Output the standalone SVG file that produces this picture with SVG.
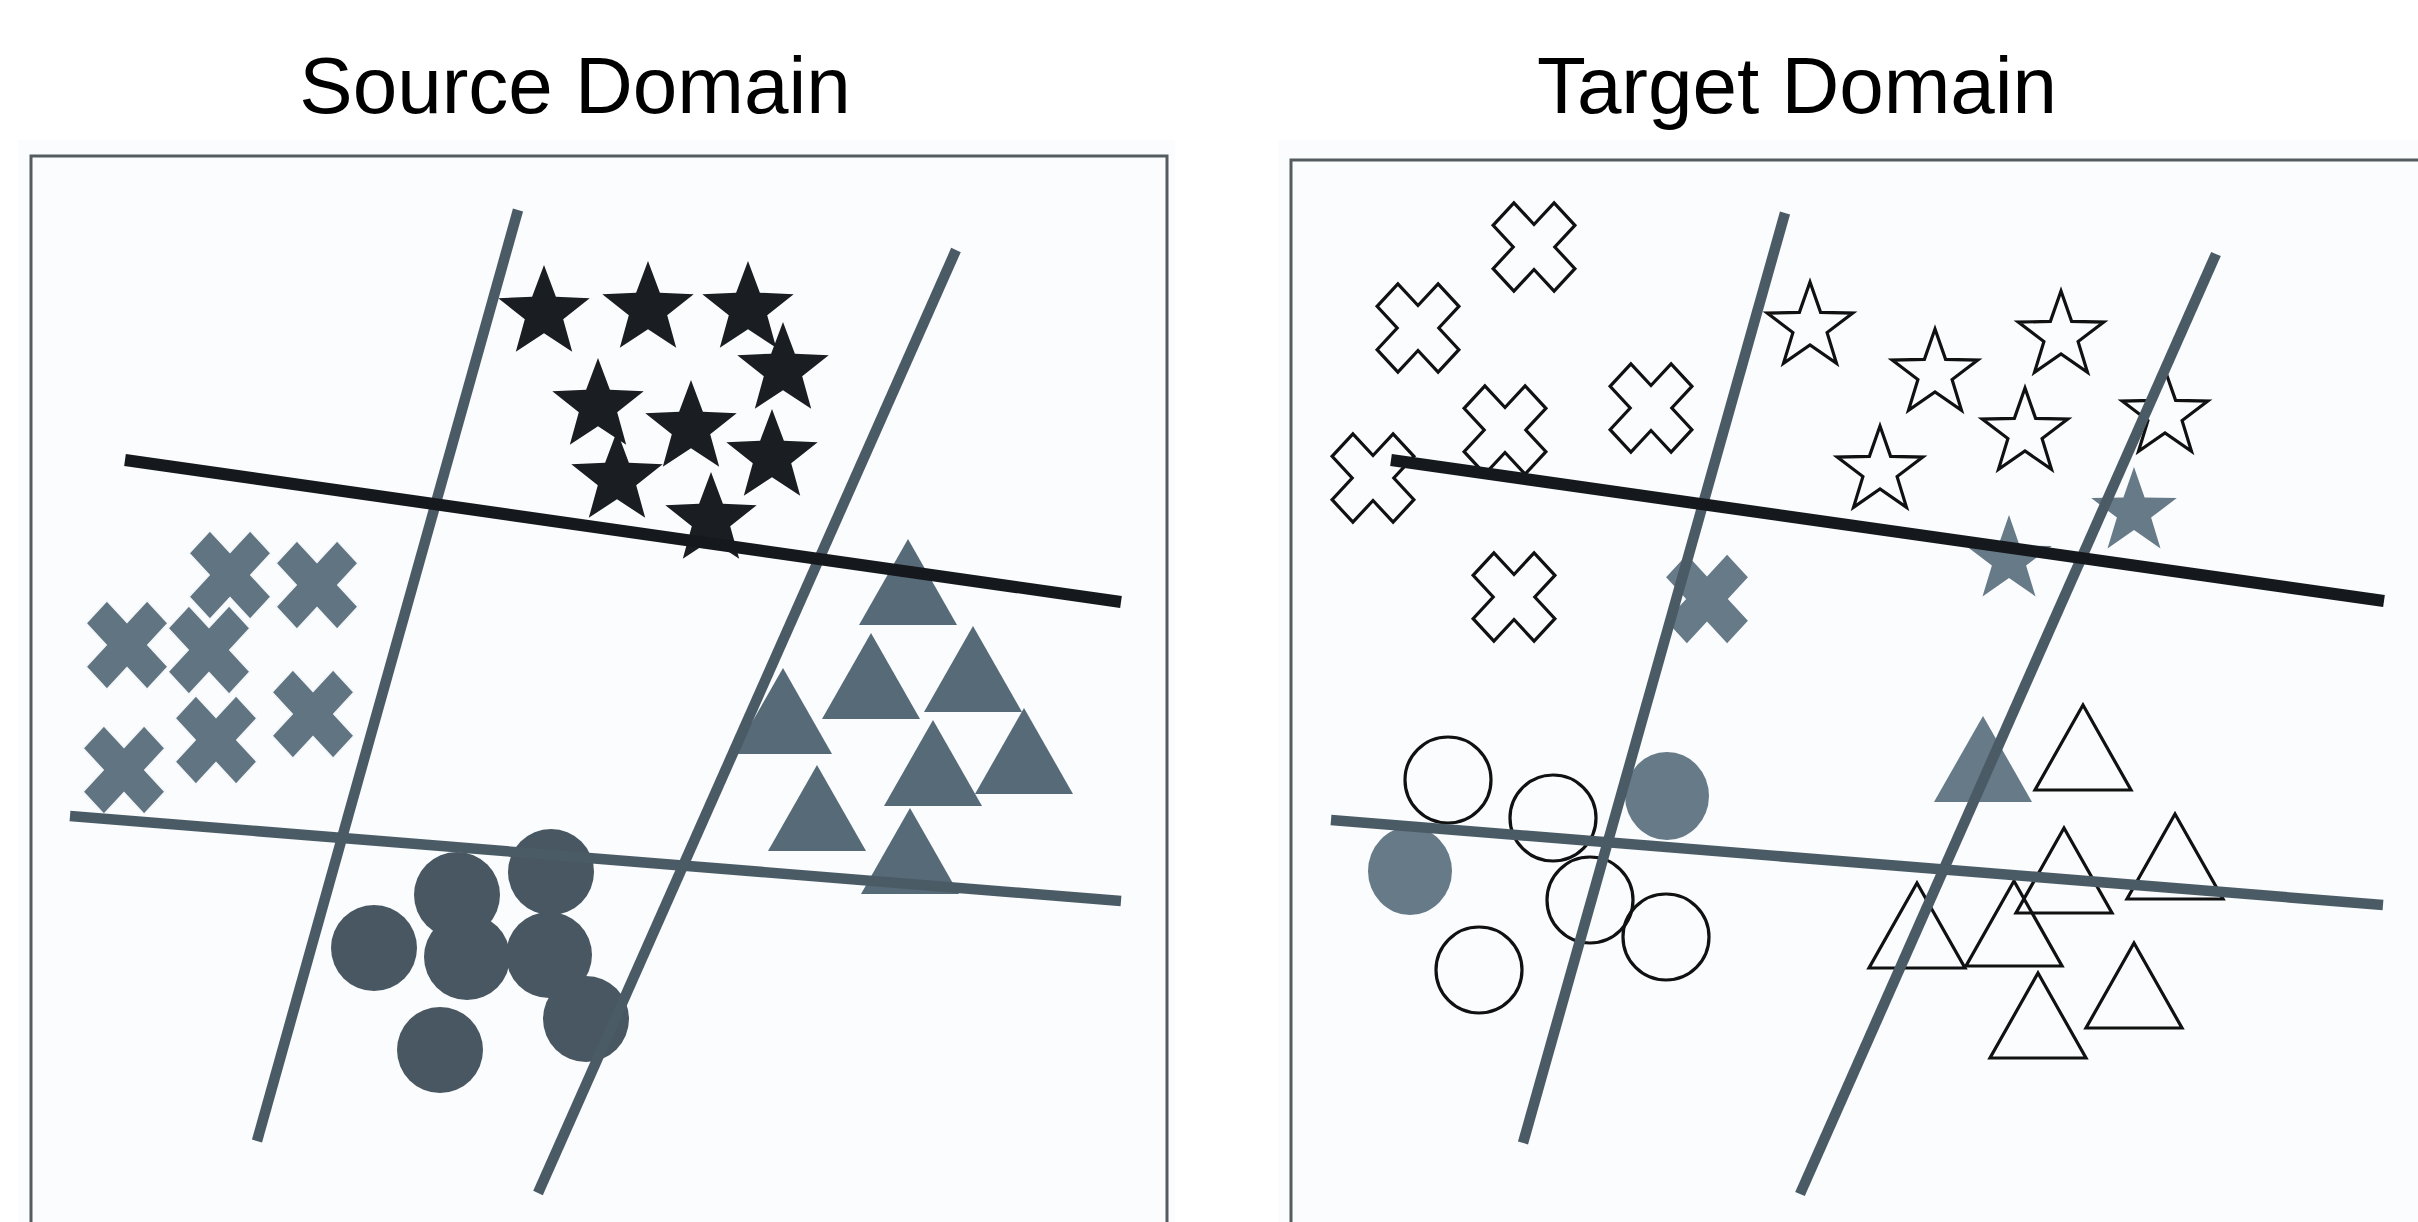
<svg xmlns="http://www.w3.org/2000/svg" xmlns:xlink="http://www.w3.org/1999/xlink" width="2418" height="1222" viewBox="0 0 2418 1222">
  <style>
    .title { font-family: "Liberation Sans", Arial, sans-serif; font-size: 80px; fill: #000; text-anchor: middle; }
    .panel-bg { fill: #fafcfd; }
    .frame { fill: none; stroke: #555c61; stroke-width: 3; }
    .sep-grey { stroke: #4b5b66; stroke-width: 10.5; stroke-linecap: butt; fill: none; }
    .sep-black { stroke: #15191d; stroke-width: 12; stroke-linecap: butt; fill: none; }
    .src-star { fill: #1a1e22; }
    .src-cross { fill: #617481; stroke: #f4f7f9; stroke-width: 1.5; }
    .src-tri { fill: #576a78; }
    .src-dot { fill: #485761; }
    .tgt-open { fill: none; stroke: #111; stroke-width: 3.2; stroke-linejoin: miter; }
    .tgt-grey { fill: #677a88; }
  </style>
  <defs>
    <path id="star-l" d="M0,-48 L11.9,-16.3 L45.7,-14.8 L19.2,6.2 L28.2,38.8 L0,20.2 L-28.2,38.8 L-19.2,6.2 L-45.7,-14.8 L-11.9,-16.3 Z"/>
    <path id="star-s" d="M0,-45 L10.6,-14.6 L42.8,-13.9 L17.1,5.6 L26.5,36.4 L0,18 L-26.5,36.4 L-17.1,5.6 L-42.8,-13.9 L-10.6,-14.6 Z"/>
    <path id="cross" d="M40.9,-21.7 L20.8,0 L40.9,21.7 L20.1,44.2 L0,22.5 L-20.1,44.2 L-40.9,21.7 L-20.8,0 L-40.9,-21.7 L-20.1,-44.2 L0,-22.5 L20.1,-44.2 Z"/>
    <path id="tri-l" d="M0,0 L49,86 L-49,86 Z"/>
    <path id="tri-s" d="M0,0 L48,85 L-48,85 Z"/>
  </defs>

  <rect width="2418" height="1222" fill="#ffffff"/>

  <!-- titles -->
  <text id="title-source" class="title" x="575" y="113">Source Domain</text>
  <text id="title-target" class="title" x="1797" y="113">Target Domain</text>

  <!-- ===== source panel ===== -->
  <g id="source-panel">
    <rect class="panel-bg" x="18" y="140" width="1157" height="1082"/>
    <path class="frame" d="M31,1222 V156 H1167 V1222"/>

    <g id="source-stars" class="src-star">
      <use xlink:href="#star-l" transform="translate(544,313)"/>
      <use xlink:href="#star-l" transform="translate(648,309)"/>
      <use xlink:href="#star-l" transform="translate(748,309)"/>
      <use xlink:href="#star-l" transform="translate(783,370)"/>
      <use xlink:href="#star-l" transform="translate(598,406)"/>
      <use xlink:href="#star-l" transform="translate(691,428)"/>
      <use xlink:href="#star-l" transform="translate(772,457)"/>
      <use xlink:href="#star-l" transform="translate(617,479)"/>
      <use xlink:href="#star-l" transform="translate(711,520)"/>
    </g>

    <g id="source-crosses" class="src-cross">
      <use xlink:href="#cross" transform="translate(230,575)"/>
      <use xlink:href="#cross" transform="translate(317,585)"/>
      <use xlink:href="#cross" transform="translate(127,645)"/>
      <use xlink:href="#cross" transform="translate(209,650)"/>
      <use xlink:href="#cross" transform="translate(313,714)"/>
      <use xlink:href="#cross" transform="translate(216,740)"/>
      <use xlink:href="#cross" transform="translate(124,770)"/>
    </g>

    <g id="source-triangles" class="src-tri">
      <use xlink:href="#tri-l" transform="translate(908,539)"/>
      <use xlink:href="#tri-l" transform="translate(871,633)"/>
      <use xlink:href="#tri-l" transform="translate(973,626)"/>
      <use xlink:href="#tri-l" transform="translate(783,668)"/>
      <use xlink:href="#tri-l" transform="translate(933,720)"/>
      <use xlink:href="#tri-l" transform="translate(1024,708)"/>
      <use xlink:href="#tri-l" transform="translate(817,765)"/>
      <use xlink:href="#tri-l" transform="translate(910,808)"/>
    </g>

    <g id="source-circles" class="src-dot">
      <circle cx="551" cy="872" r="43"/>
      <circle cx="457" cy="895" r="43"/>
      <circle cx="374" cy="948" r="43"/>
      <circle cx="467" cy="957" r="43"/>
      <circle cx="549" cy="955" r="43"/>
      <circle cx="586" cy="1019" r="43"/>
      <circle cx="440" cy="1050" r="43"/>
    </g>

    <g id="source-boundaries">
      <line class="sep-grey" x1="518" y1="210" x2="257" y2="1141"/>
      <line class="sep-grey" x1="956" y1="250" x2="538" y2="1193"/>
      <line class="sep-grey" x1="70" y1="816" x2="1121" y2="901"/>
      <line class="sep-black" x1="125" y1="460" x2="1121" y2="602"/>
    </g>
  </g>

  <!-- ===== target panel ===== -->
  <g id="target-panel">
    <rect class="panel-bg" x="1278" y="140" width="1140" height="1082"/>
    <path class="frame" d="M1291,1222 V160 H2418"/>

    <g id="target-crosses">
      <use class="tgt-open" xlink:href="#cross" transform="translate(1534,247)"/>
      <use class="tgt-open" xlink:href="#cross" transform="translate(1418,328)"/>
      <use class="tgt-open" xlink:href="#cross" transform="translate(1651,408)"/>
      <use class="tgt-open" xlink:href="#cross" transform="translate(1505,430)"/>
      <use class="tgt-open" xlink:href="#cross" transform="translate(1373,478)"/>
      <use class="tgt-open" xlink:href="#cross" transform="translate(1514,597)"/>
      <use class="tgt-grey" xlink:href="#cross" transform="translate(1707,599)"/>
    </g>

    <g id="target-stars">
      <use class="tgt-open" xlink:href="#star-s" transform="translate(1810,327)"/>
      <use class="tgt-open" xlink:href="#star-s" transform="translate(1935,374)"/>
      <use class="tgt-open" xlink:href="#star-s" transform="translate(2061,336)"/>
      <use class="tgt-open" xlink:href="#star-s" transform="translate(2025,433)"/>
      <use class="tgt-open" xlink:href="#star-s" transform="translate(1880,471)"/>
      <use class="tgt-open" xlink:href="#star-s" transform="translate(2165,415)"/>
      <use class="tgt-grey" xlink:href="#star-s" transform="translate(2009,560)"/>
      <use class="tgt-grey" xlink:href="#star-s" transform="translate(2134,512)"/>
    </g>

    <g id="target-circles">
      <circle class="tgt-open" cx="1448" cy="780" r="43"/>
      <circle class="tgt-open" cx="1553" cy="818" r="43"/>
      <circle class="tgt-open" cx="1590" cy="900" r="43"/>
      <circle class="tgt-open" cx="1666" cy="937" r="43"/>
      <circle class="tgt-open" cx="1479" cy="970" r="43"/>
      <ellipse class="tgt-grey" cx="1667" cy="796" rx="42" ry="44"/>
      <ellipse class="tgt-grey" cx="1410" cy="871" rx="42" ry="44"/>
    </g>

    <g id="target-triangles">
      <use class="tgt-open" xlink:href="#tri-s" transform="translate(2083,705)"/>
      <use class="tgt-open" xlink:href="#tri-s" transform="translate(2064,828)"/>
      <use class="tgt-open" xlink:href="#tri-s" transform="translate(2175,814)"/>
      <use class="tgt-open" xlink:href="#tri-s" transform="translate(1917,883)"/>
      <use class="tgt-open" xlink:href="#tri-s" transform="translate(2014,881)"/>
      <use class="tgt-open" xlink:href="#tri-s" transform="translate(2038,973)"/>
      <use class="tgt-open" xlink:href="#tri-s" transform="translate(2134,943)"/>
      <use class="tgt-grey" xlink:href="#tri-l" transform="translate(1983,716)"/>
    </g>

    <g id="target-boundaries">
      <line class="sep-grey" x1="1785" y1="213" x2="1523" y2="1143"/>
      <line class="sep-grey" x1="2216" y1="254" x2="1800" y2="1194"/>
      <line class="sep-grey" x1="1331" y1="820" x2="2383" y2="905"/>
      <line class="sep-black" x1="1391" y1="460" x2="2384" y2="601"/>
    </g>
  </g>
</svg>
